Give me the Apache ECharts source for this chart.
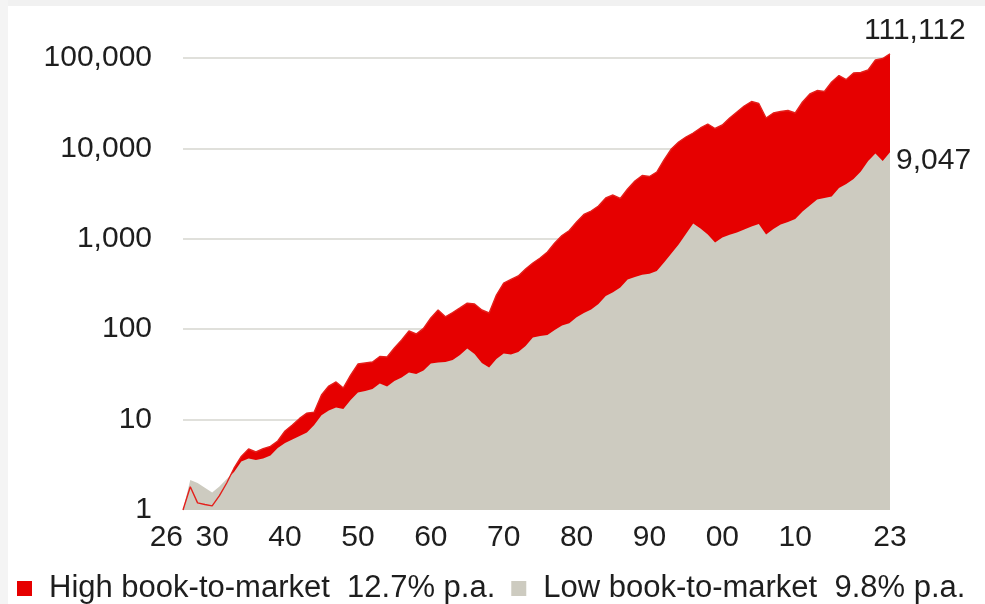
<!DOCTYPE html>
<html>
<head>
<meta charset="utf-8">
<script src="https://cdn.jsdelivr.net/npm/echarts@6/dist/echarts.min.js"></script>
<style>
html,body{margin:0;padding:0;background:#fff;}
#chart{width:985px;height:604px;}
</style>
</head>
<body>
<div id="chart"></div>
<script>
const startYear = 1926;
const endYear = 2023;
const labelYears = [1926, 1930, 1940, 1950, 1960, 1970, 1980, 1990, 2000, 2010, 2023];
const yTicks = [1, 10, 100, 1000, 10000, 100000];
const seriesNames = ["High book-to-market", "Low book-to-market"];
const seriesRates = ["12.7% p.a.", "9.8% p.a."];

const highBM = [
  1.0, 1.81, 1.20, 1.15, 1.11, 1.44, 1.99, 2.90, 3.91, 4.73,
  4.38, 4.77, 5.05, 5.80, 7.48, 8.71, 10.3, 11.8, 12.1, 18.7,
  23.5, 26.1, 22.4, 31.1, 41.2, 42.3, 43.4, 49.9, 49.2, 61.9,
  76.0, 95.5, 88.5, 102, 133, 163, 137, 153, 172, 194,
  190, 163, 151, 239, 324, 355, 388, 463, 540, 613,
  715, 900, 1088, 1235, 1535, 1858, 2029, 2306, 2826, 3050,
  2793, 3556, 4357, 5010, 4888, 5481, 7445, 9846, 11770, 13370,
  14800, 16820, 18620, 16600, 18150, 21700, 25270, 29450, 33030, 31390,
  21700, 24640, 25610, 26260, 24640, 32600, 39970, 43670, 42590, 54290,
  64000, 57810, 68250, 69170, 73640, 95010, 98660, 111112
];

const lowBM = [
  1.0, 2.15, 1.99, 1.76, 1.56, 1.82, 2.20, 2.63, 3.44, 3.71,
  3.57, 3.71, 4.01, 4.85, 5.51, 6.03, 6.59, 7.20, 8.71, 11.2,
  12.6, 13.6, 13.1, 16.5, 19.9, 20.7, 21.8, 25.1, 23.2, 26.7,
  29.2, 33.2, 31.9, 34.9, 41.8, 42.9, 43.4, 45.6, 51.8, 61.2,
  53.2, 42.3, 37.7, 46.8, 53.8, 52.5, 55.9, 65.2, 80.9, 84.1,
  86.3, 98.0, 110, 116, 136, 151, 165, 190, 233, 256,
  289, 355, 378, 400, 411, 440, 547, 688, 865, 1130,
  1475, 1300, 1116, 910, 1033, 1107, 1174, 1268, 1368, 1458,
  1116, 1284, 1439, 1535, 1656, 2005, 2335, 2722, 2826, 2936,
  3648, 4037, 4581, 5555, 7261, 8790, 7261, 9047
];

const years = [];
for (let y = startYear; y <= endYear; y++) years.push(String(y));

const RED = '#e60000';
const GREY = '#cdcbc0';
const TXT = '#1e1e1e';
const FONT = '"Liberation Sans", Arial, sans-serif';
const FS = 30;
const fmt = v => Number(v).toLocaleString('en-US');

const chart = echarts.init(document.getElementById('chart'), null, {renderer: 'canvas'});
chart.setOption({
  animation: false,
  backgroundColor: '#ffffff',
  textStyle: {fontFamily: FONT},
  graphic: [
    {type: 'rect', left: 0, top: 0, shape: {width: 985, height: 6}, style: {fill: '#f1f1f1'}, z: -10},
    {type: 'rect', left: 0, top: 0, shape: {width: 8, height: 604}, style: {fill: '#f4f4f4'}, z: -10}
  ],
  grid: {left: 183, right: 95, top: 58, bottom: 94},
  legend: {
    data: seriesNames,
    left: 12,
    top: 568,
    itemWidth: 15,
    itemHeight: 15,
    itemGap: 16,
    icon: 'rect',
    formatter: name => name + '  ' + seriesRates[seriesNames.indexOf(name)],
    textStyle: {fontSize: 31, color: TXT, fontFamily: FONT, padding: [0, 0, 0, 12]}
  },
  xAxis: {
    type: 'category',
    data: years,
    boundaryGap: false,
    axisLine: {show: false},
    axisTick: {show: false},
    splitLine: {show: false},
    axisLabel: {
      interval: (i, v) => labelYears.indexOf(Number(v)) >= 0,
      formatter: v => String(v).slice(2),
      showMinLabel: true,
      alignMinLabel: 'right',
      hideOverlap: false,
      fontSize: FS,
      color: TXT,
      margin: 13,
      fontFamily: FONT
    }
  },
  yAxis: {
    type: 'log',
    logBase: 10,
    min: yTicks[0],
    max: yTicks[yTicks.length - 1],
    axisLine: {show: false},
    axisTick: {show: false},
    splitLine: {show: true, showMinLine: false, lineStyle: {color: '#d6d6cf', width: 1.5}},
    axisLabel: {
      formatter: v => fmt(v),
      fontSize: FS,
      color: TXT,
      margin: 31,
      fontFamily: FONT
    }
  },
  series: [
    {
      name: seriesNames[0],
      type: 'line',
      data: highBM,
      showSymbol: false,
      clip: false,
      itemStyle: {color: RED},
      lineStyle: {width: 0, color: RED},
      areaStyle: {color: RED, opacity: 1, origin: 'start'},
      z: 2
    },
    {
      name: seriesNames[1],
      type: 'line',
      data: lowBM,
      showSymbol: false,
      clip: false,
      itemStyle: {color: GREY},
      lineStyle: {width: 0, color: GREY},
      areaStyle: {color: GREY, opacity: 1, origin: 'start'},
      endLabel: {
        show: true,
        formatter: p => fmt(p.value),
        fontSize: FS,
        color: TXT,
        distance: 6,
        offset: [0, 8],
        fontFamily: FONT
      },
      z: 3
    },
    {
      name: seriesNames[0],
      type: 'line',
      data: highBM,
      showSymbol: false,
      clip: false,
      itemStyle: {color: RED},
      lineStyle: {width: 1.4, color: '#e4201c'},
      endLabel: {
        show: true,
        formatter: p => fmt(p.value),
        fontSize: FS,
        color: TXT,
        distance: 5,
        offset: [-31, -23],
        fontFamily: FONT
      },
      z: 4
    }
  ]
});
</script>
</body>
</html>
